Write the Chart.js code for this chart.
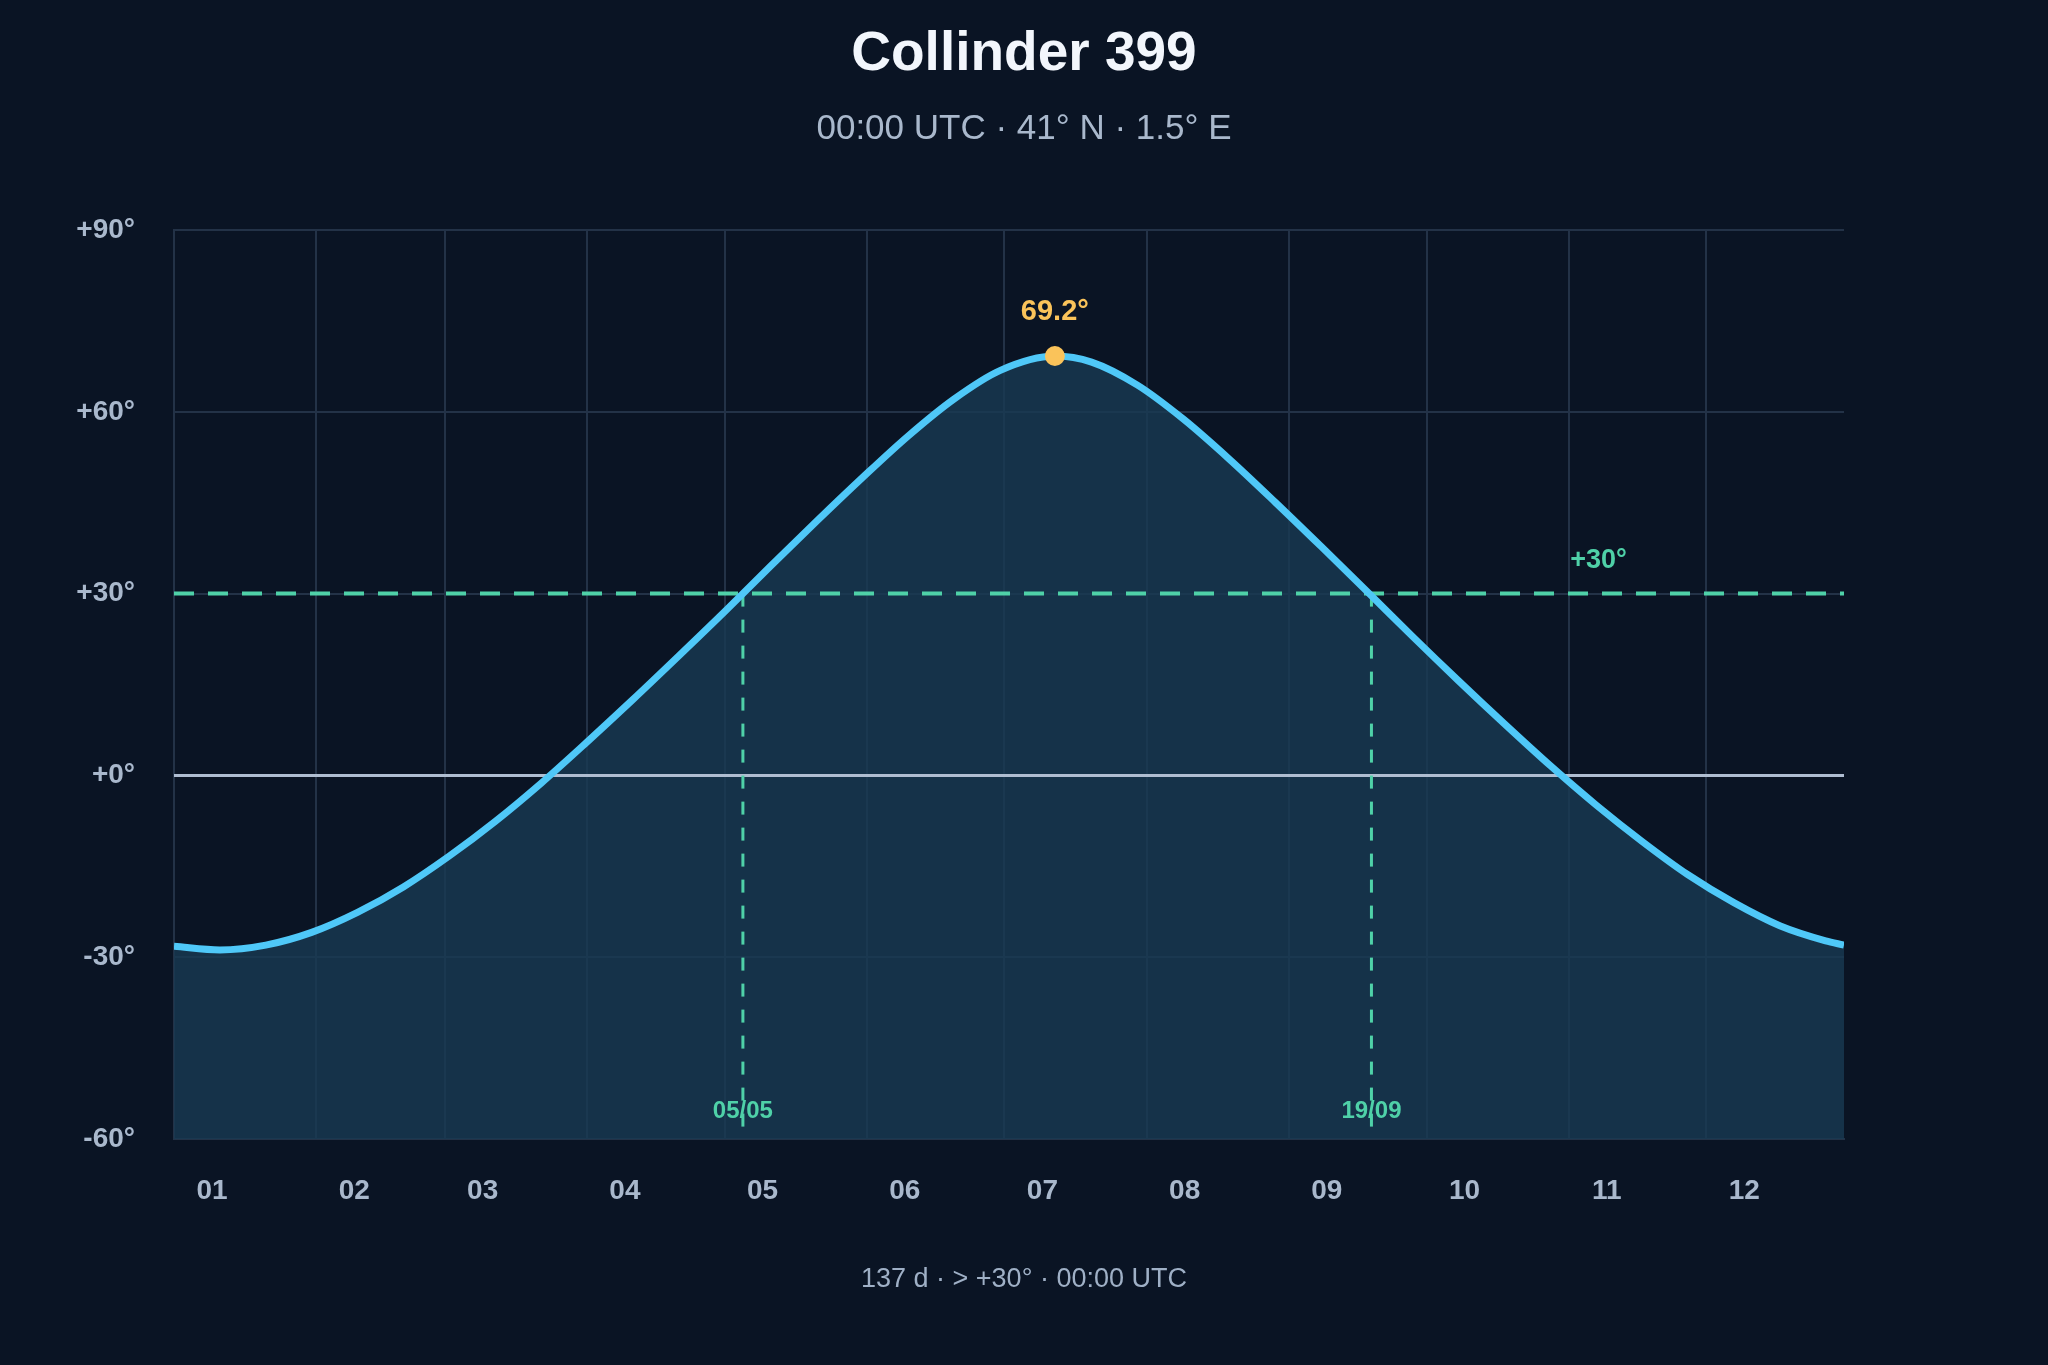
<!DOCTYPE html>
<html>
<head>
<meta charset="utf-8">
<script src="https://cdn.jsdelivr.net/npm/chart.js@4.4.1/dist/chart.umd.min.js"></script>
<style>
  html, body { margin: 0; padding: 0; background: #0a1424; }
  #wrap { width: 2048px; height: 1365px; position: relative; }
  canvas { display: block; }
</style>
</head>
<body>
<div id="wrap"><canvas id="c" width="2048" height="1365" style="width:2048px;height:1365px"></canvas></div>
<script>
// ---- data ----
const TITLE = 'Collinder 399';
const SUBTITLE = '00:00 UTC · 41° N · 1.5° E';
const FOOTER = '137 d · > +30° · 00:00 UTC';

// day index (0 = 1 Jan, 364 = 31 Dec) and altitude in degrees at 00:00 UTC
const DAYS = [0, 10, 20, 30, 40, 50, 60, 70, 80, 90, 100, 110, 120, 130, 140, 150, 160, 170, 180, 192,
              200, 210, 220, 230, 240, 250, 260, 270, 280, 290, 300, 310, 320, 330, 340, 350, 360, 364];
const ALTITUDE = [-28.2, -28.8, -28.0, -25.9, -22.6, -18.4, -13.3, -7.6, -1.3, 5.5, 12.5, 19.7, 27.0, 34.5, 41.9,
                  49.1, 56.0, 62.1, 66.8, 69.2, 68.2, 64.4, 58.8, 52.2, 45.1, 37.8, 30.4, 22.9, 15.6, 8.5,
                  1.6, -4.9, -10.9, -16.4, -21.0, -24.8, -27.3, -28.0];

const MONTH_STARTS = [0, 31, 59, 90, 120, 151, 181, 212, 243, 273, 304, 334];
const MONTH_LABELS = ['01', '02', '03', '04', '05', '06', '07', '08', '09', '10', '11', '12'];
const Y_TICKS = [-60, -30, 0, 30, 60, 90];

const THRESHOLD = 30;
const RISE_DAY = 124, RISE_LABEL = '05/05';
const SET_DAY = 261, SET_LABEL = '19/09';
const PEAK_DAY = 192, PEAK_ALT = 69.2;
const THRESHOLD_LABEL_DAY = 310.5;

// ---- styles ----
const BG = '#0a1424';
const GRID = '#233247';
const LINE = '#4fc8f8';
const FILL = 'rgba(24,58,82,0.8)';
const GREEN = '#4fd1a8';
const GOLD = '#fac35a';
const TICK = '#a9b8cc';
const FONT = '"Liberation Sans", Arial, Helvetica, sans-serif';

const bgPlugin = {
  id: 'bg',
  beforeDraw(chart) {
    const ctx = chart.ctx;
    ctx.save();
    ctx.fillStyle = BG;
    ctx.fillRect(0, 0, chart.width, chart.height);
    ctx.restore();
  }
};

const textPlugin = {
  id: 'texts',
  afterDatasetsDraw(chart) {
    const ctx = chart.ctx;
    const xs = chart.scales.x, ys = chart.scales.y;
    ctx.save();
    ctx.textAlign = 'center';
    ctx.textBaseline = 'middle';
    // header
    ctx.fillStyle = '#f2f6fc';
    ctx.font = 'bold 55px ' + FONT;
    ctx.fillText(TITLE, 1024, 55);
    ctx.fillStyle = TICK;
    ctx.font = '35px ' + FONT;
    ctx.fillText(SUBTITLE, 1024, 129);
    // footer
    ctx.fillStyle = '#9fb0c6';
    ctx.font = '27px ' + FONT;
    ctx.fillText(FOOTER, 1024, 1280);
    // peak label
    ctx.fillStyle = GOLD;
    ctx.font = 'bold 29px ' + FONT;
    ctx.fillText(PEAK_ALT.toFixed(1) + '°', xs.getPixelForValue(PEAK_DAY), ys.getPixelForValue(PEAK_ALT) - 44);
    // threshold label
    ctx.fillStyle = GREEN;
    ctx.font = 'bold 27px ' + FONT;
    ctx.fillText('+' + THRESHOLD + '°', xs.getPixelForValue(THRESHOLD_LABEL_DAY), ys.getPixelForValue(THRESHOLD) - 33);
    // date labels
    ctx.font = 'bold 24px ' + FONT;
    const yb = ys.getPixelForValue(-60) - 28;
    ctx.fillText(RISE_LABEL, xs.getPixelForValue(RISE_DAY), yb);
    ctx.fillText(SET_LABEL, xs.getPixelForValue(SET_DAY), yb);
    ctx.restore();
  }
};

const mainData = DAYS.map((d, i) => ({ x: d, y: ALTITUDE[i] }));
const X_MAX = 364;

new Chart(document.getElementById('c'), {
  type: 'line',
  data: {
    datasets: [
      {
        label: 'altitude',
        data: mainData,
        borderColor: LINE,
        borderWidth: 7,
        backgroundColor: FILL,
        fill: 'start',
        pointRadius: 0,
        cubicInterpolationMode: 'monotone',
        order: 0
      },
      {
        label: 'horizon',
        data: [{ x: 0, y: 0 }, { x: X_MAX, y: 0 }],
        borderColor: '#afbdd1',
        borderWidth: 3,
        pointRadius: 0,
        fill: false,
        order: 5
      },
      {
        label: 'threshold',
        data: [{ x: 0, y: THRESHOLD }, { x: X_MAX, y: THRESHOLD }],
        borderColor: GREEN,
        borderWidth: 4,
        borderDash: [20, 14],
        pointRadius: 0,
        fill: false,
        order: 4
      },
      {
        label: 'rise',
        data: [{ x: RISE_DAY, y: THRESHOLD }, { x: RISE_DAY, y: -60 }],
        borderColor: GREEN,
        borderWidth: 3,
        borderDash: [13, 13],
        pointRadius: 0,
        fill: false,
        order: 3
      },
      {
        label: 'set',
        data: [{ x: SET_DAY, y: THRESHOLD }, { x: SET_DAY, y: -60 }],
        borderColor: GREEN,
        borderWidth: 3,
        borderDash: [13, 13],
        pointRadius: 0,
        fill: false,
        order: 3
      },
      {
        label: 'peak',
        data: [{ x: PEAK_DAY, y: PEAK_ALT }],
        showLine: false,
        pointRadius: 10,
        pointBackgroundColor: GOLD,
        pointBorderWidth: 0,
        order: -1
      }
    ]
  },
  options: {
    responsive: false,
    devicePixelRatio: 1,
    animation: false,
    layout: { padding: { top: 230, right: 204, left: 0, bottom: 0 } },
    plugins: {
      legend: { display: false },
      tooltip: { enabled: false },
      filler: { drawTime: 'beforeDatasetsDraw' }
    },
    scales: {
      x: {
        type: 'linear',
        min: 0,
        max: X_MAX,
        afterBuildTicks(scale) { scale.ticks = MONTH_STARTS.map(v => ({ value: v })); },
        afterFit(scale) { scale.height = 226; },
        grid: { color: GRID, lineWidth: 2, drawTicks: false },
        border: { color: GRID, width: 2 },
        ticks: {
          autoSkip: false,
          maxRotation: 0,
          padding: 35,
          labelOffset: 38,
          color: TICK,
          font: { family: FONT, size: 28, weight: 'bold' },
          callback(v) { const i = MONTH_STARTS.indexOf(v); return i >= 0 ? MONTH_LABELS[i] : ''; }
        }
      },
      y: {
        min: -60,
        max: 90,
        afterBuildTicks(scale) { scale.ticks = Y_TICKS.map(v => ({ value: v })); },
        afterFit(scale) { scale.width = 174; },
        grid: { color: GRID, lineWidth: 2, drawTicks: false },
        border: { color: GRID, width: 2 },
        ticks: {
          padding: 39,
          color: TICK,
          font: { family: FONT, size: 28, weight: 'bold' },
          callback(v) { return (v >= 0 ? '+' : '') + v + '°'; }
        }
      }
    }
  },
  plugins: [bgPlugin, textPlugin]
});
</script>
</body>
</html>
